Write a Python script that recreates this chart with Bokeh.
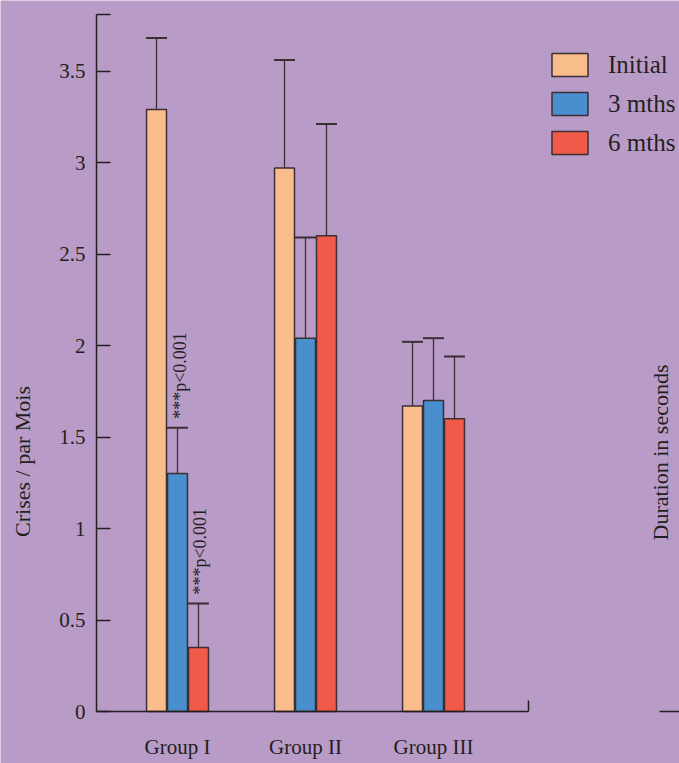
import math
from bokeh.plotting import figure
from bokeh.models import (ColumnDataSource, Range1d, FixedTicker, Whisker, TeeHead,
                          Label, BoxAnnotation, LinearAxis)
from bokeh.core.properties import value
from bokeh.embed import file_html
from bokeh.resources import INLINE

# ---------------- data ----------------
groups = ["Group I", "Group II", "Group III"]
series = ["Initial", "3 mths", "6 mths"]
initial = [3.29, 2.97, 1.67]
initial_upper = [3.68, 3.56, 2.02]
mths3 = [1.30, 2.04, 1.70]
mths3_upper = [1.55, 2.59, 2.04]
mths6 = [0.35, 2.60, 1.60]
mths6_upper = [0.59, 3.21, 1.94]

ytick_vals = [0, 0.5, 1, 1.5, 2, 2.5, 3, 3.5]
ytick_labels = ["0", "0.5", "1", "1.5", "2", "2.5", "3", "3.5"]

sig_group = ["Group I", "Group I"]
sig_series = ["3 mths", "6 mths"]
sig_text = ["***p<0.001", "***p<0.001"]

y_label = "Crises / par Mois"
y2_label = "Duration in seconds"

# ---------------- style / layout ----------------
bg = "#b99bc8"
ink = "#231f20"
edge = "#3a2f33"
colors = ["#f9bd8b", "#4a8fcd", "#f05a48"]
serif = "Liberation Serif"

W, H = 679, 763
# pixel geometry of the plotting area
px_per_x, px_per_y = 128.0, 183.0
x0_px, y0_px = 177.0, 711.0          # pixel of x=0 (Group I centre) and y=0
axis_left_px, axis_right_px, axis_top_px = 96.0, 528.0, 14.0

x_start = -x0_px / px_per_x
x_end = (W - x0_px) / px_per_x
y_start = -(H - y0_px) / px_per_y
y_end = y0_px / px_per_y
xb0 = (axis_left_px - x0_px) / px_per_x
xb1 = (axis_right_px - x0_px) / px_per_x
yb1 = (y0_px - axis_top_px) / px_per_y

step = 0.164
bar_w = 0.156

p = figure(width=W, height=H, output_backend="svg", toolbar_location=None, title=None,
           x_range=Range1d(x_start, x_end), y_range=Range1d(y_start, y_end),
           x_axis_location=None, y_axis_location=None, min_border=0)
p.background_fill_color = bg
p.border_fill_color = bg
p.outline_line_color = None
p.xgrid.visible = False
p.ygrid.visible = False

vals = [initial, mths3, mths6]
uppers = [initial_upper, mths3_upper, mths6_upper]
xpos = {}
upper_lookup = {}
for si, name in enumerate(series):
    xs = [gi + (si - 1) * step for gi in range(len(groups))]
    for gi, g in enumerate(groups):
        xpos[(g, name)] = xs[gi]
        upper_lookup[(g, name)] = uppers[si][gi]
    src = ColumnDataSource(dict(x=xs, top=vals[si], upper=uppers[si], group=groups))
    p.vbar(x="x", top="top", bottom=0, width=bar_w, source=src,
           fill_color=colors[si], line_color=edge, line_width=1.5,
           legend_label=name)
    wh = Whisker(source=src, base="x", lower="top", upper="upper", dimension="height",
                 line_color=edge, line_width=1.3,
                 upper_head=TeeHead(size=21, line_color=edge, line_width=2),
                 lower_head=None)
    p.add_layout(wh)

# significance annotations
sig_src = ColumnDataSource(dict(
    x=[xpos[(g, s)] for g, s in zip(sig_group, sig_series)],
    y=[upper_lookup[(g, s)] for g, s in zip(sig_group, sig_series)],
    text=sig_text))
p.text(x="x", y="y", text="text", source=sig_src, angle=math.pi / 2,
       text_align="left", text_baseline="middle", x_offset=2, y_offset=-9,
       text_font=value(serif), text_font_size=value("18px"), text_color=ink)

# y axis
ya = LinearAxis(fixed_location=xb0, bounds=(0, yb1))
ya.ticker = FixedTicker(ticks=ytick_vals, minor_ticks=[yb1 - 0.002])
ya.major_label_overrides = dict(zip(ytick_vals, ytick_labels))
ya.major_tick_in = 14
ya.major_tick_out = 0
ya.minor_tick_in = 14
ya.minor_tick_out = 0
ya.axis_line_width = 1.5
ya.axis_line_color = ink
ya.major_tick_line_color = ink
ya.major_tick_line_width = 1.5
ya.minor_tick_line_color = ink
ya.minor_tick_line_width = 1.5
ya.major_label_standoff = 11
ya.major_label_text_font = serif
ya.major_label_text_font_size = "21px"
ya.major_label_text_color = ink
p.add_layout(ya, "left")

# x axis
xa = LinearAxis(fixed_location=0, bounds=(xb0, xb1))
xa.ticker = FixedTicker(ticks=list(range(len(groups))), minor_ticks=[xb1 - 0.003])
xa.major_label_overrides = {i: g for i, g in enumerate(groups)}
xa.major_tick_line_color = None
xa.minor_tick_in = 11
xa.minor_tick_out = 0
xa.minor_tick_line_color = ink
xa.minor_tick_line_width = 1.5
xa.axis_line_width = 1.5
xa.axis_line_color = ink
xa.major_label_standoff = 17
xa.major_label_text_font = serif
xa.major_label_text_font_size = "21px"
xa.major_label_text_color = ink
p.add_layout(xa, "below")

# axis titles as labels (screen units from the bottom-left corner)
p.add_layout(Label(x=22, y=H - 461, x_units="screen", y_units="screen", text=y_label,
                   angle=math.pi / 2, text_align="center", text_baseline="middle",
                   text_font=serif, text_font_size="22px", text_color=ink))
p.add_layout(Label(x=660, y=H - 452, x_units="screen", y_units="screen", text=y2_label,
                   angle=math.pi / 2, text_align="center", text_baseline="middle",
                   text_font=serif, text_font_size="22px", text_color=ink))
# start of the neighbouring panel's axis
p.add_layout(BoxAnnotation(left=659, right=W, bottom=H - y0_px - 0.75, top=H - y0_px + 0.75,
                           left_units="screen", right_units="screen",
                           bottom_units="screen", top_units="screen",
                           fill_color=ink, fill_alpha=1, line_color=None))

# legend
lg = p.legend[0]
lg.location = (547, H - 157)
lg.glyph_width = 45
lg.glyph_height = 29
lg.label_height = 29
lg.label_standoff = 16
lg.spacing = 10
lg.padding = 0
lg.margin = 0
lg.border_line_color = None
lg.background_fill_alpha = 0
lg.label_text_font = serif
lg.label_text_font_size = "25px"
lg.label_text_color = ink

open("out.html", "w").write(file_html(p, INLINE))
